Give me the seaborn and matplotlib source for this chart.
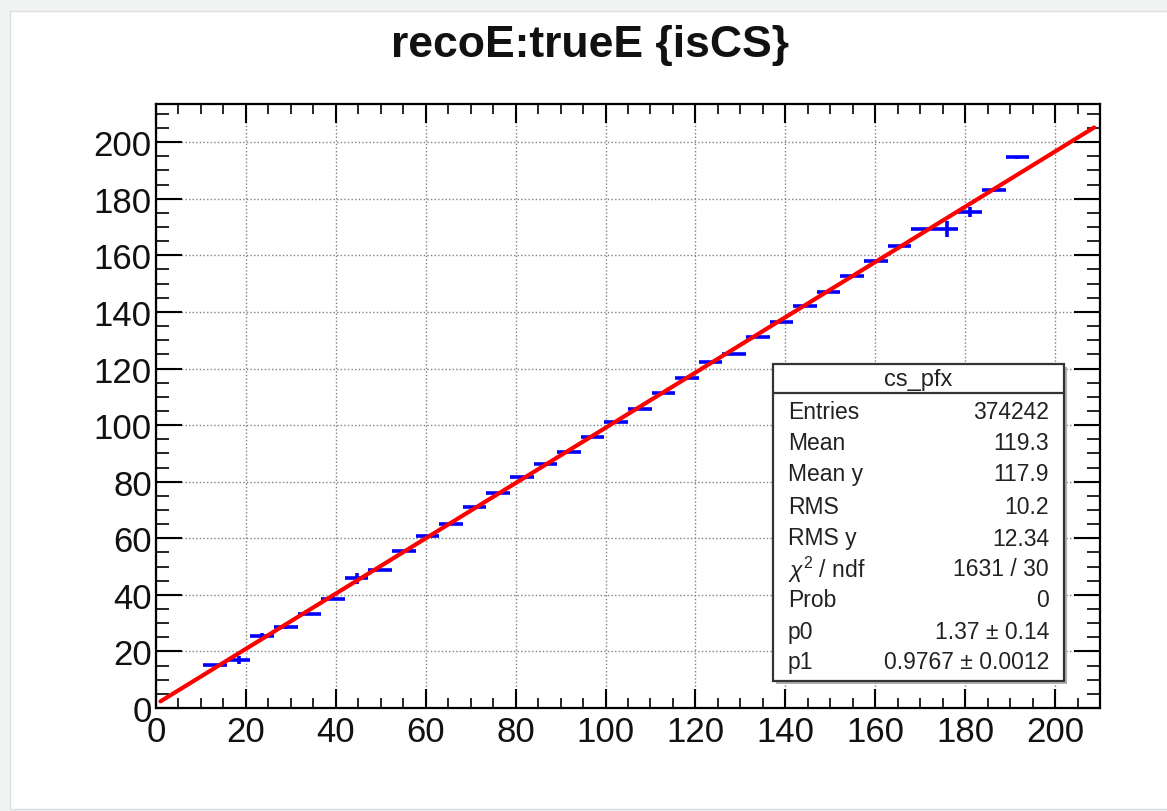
import numpy as np
import pandas as pd
import matplotlib
matplotlib.use("Agg")
import matplotlib.pyplot as plt
from matplotlib.patches import Rectangle
from matplotlib.ticker import MultipleLocator
import seaborn as sns

# ---------------- data ----------------
title = "recoE:trueE {isCS}"
x_centers = [13.125, 18.375, 23.625, 28.875, 34.125, 39.375, 44.625, 49.875,
             55.125, 60.375, 65.625, 70.875, 76.125, 81.375, 86.625, 91.875,
             97.125, 102.375, 107.625, 112.875, 118.125, 123.375, 128.625,
             133.875, 139.125, 144.375, 149.625, 154.875, 160.125, 165.375,
             170.625, 175.875, 181.125, 186.375, 191.625]
y_means = [15.3, 17.0, 25.6, 28.5, 33.3, 38.7, 45.8, 48.8,
           55.5, 60.8, 65.2, 71.1, 76.0, 81.5, 86.1, 90.6,
           95.8, 101.1, 105.7, 111.2, 116.6, 122.4, 125.3,
           131.3, 136.6, 142.1, 147.1, 152.7, 158.0, 163.3,
           169.3, 169.3, 175.3, 183.0, 194.7]
y_errors = [0.4, 1.5, 0.8, 0.5, 0.4, 0.4, 2.0, 0.4,
            0.5, 0.4, 0.3, 0.3, 0.3, 0.3, 0.3, 0.3,
            0.3, 0.3, 0.3, 0.3, 0.3, 0.3, 0.3,
            0.3, 0.3, 0.3, 0.3, 0.3, 0.3, 0.4,
            0.5, 2.7, 1.7, 0.6, 0.5]
bin_half_width = 2.625
fit_p0 = 1.37
fit_p1 = 0.9767
fit_range = [1.0, 208.7]

stats_title = "cs_pfx"
stats_labels = ["Entries", "Mean", "Mean y", "RMS", "RMS y",
                r"$\chi^2$ / ndf", "Prob", "p0", "p1"]
stats_values = ["374242", "119.3", "117.9", "10.2", "12.34",
                "1631 / 30", "0", "1.37 \u00b1 0.14", "0.9767 \u00b1 0.0012"]

x_lim = (0, 210)
y_lim = (0, 213.5)

# ---------------- style ----------------
sns.set_theme(style="ticks")
plt.rcParams["font.family"] = ["Liberation Sans", "DejaVu Sans"]
plt.rcParams["mathtext.fontset"] = "custom"
plt.rcParams["mathtext.rm"] = "Liberation Sans"
plt.rcParams["mathtext.it"] = "Liberation Sans:italic"

W, H = 1167, 812
fig = plt.figure(figsize=(W / 100, H / 100), dpi=100)
fig.patch.set_facecolor("#f1f3f3")

def fx(px):
    return px / W

def fy(py):
    return 1 - py / H

# white canvas
canvas = Rectangle((fx(10), fy(810)), fx(1167) - fx(10) + 0.01, fy(12) - fy(810),
                   transform=fig.transFigure, facecolor="white",
                   edgecolor="#dcdfe0", linewidth=1.0, zorder=0)
fig.add_artist(canvas)

ax = fig.add_axes([fx(156), fy(709), fx(1100) - fx(156), fy(105) - fy(709)])
ax.set_facecolor("white")

df_fit = pd.DataFrame({"x": np.linspace(fit_range[0], fit_range[1], 200)})
df_fit["y"] = fit_p0 + fit_p1 * df_fit["x"]

ax.errorbar(x_centers, y_means, xerr=bin_half_width, yerr=y_errors,
            fmt="none", ecolor="#0000ff", elinewidth=2.6, capsize=0, zorder=3)
sns.lineplot(data=df_fit, x="x", y="y", ax=ax, color="#ff0000",
             linewidth=3.0, zorder=4, legend=False)

ax.set_xlim(*x_lim)
ax.set_ylim(*y_lim)
ax.set_xlabel("")
ax.set_ylabel("")
ax.xaxis.set_major_locator(MultipleLocator(20))
ax.xaxis.set_minor_locator(MultipleLocator(5))
ax.yaxis.set_major_locator(MultipleLocator(20))
ax.yaxis.set_minor_locator(MultipleLocator(5))

ax.set_axisbelow(True)
ax.grid(True, which="major", linestyle=(0, (1.0, 1.6)), color="#808080",
        linewidth=1.0)

for sp in ax.spines.values():
    sp.set_linewidth(1.6)
    sp.set_color("black")
    sp.set_visible(True)

ax.tick_params(which="both", direction="in", top=True, right=True,
               colors="black", labelsize=25)
ax.tick_params(axis="x", which="major", length=14, width=1.5, pad=5)
ax.tick_params(axis="x", which="minor", length=7, width=1.2)
ax.tick_params(axis="y", which="major", length=19, width=1.5, pad=3)
ax.tick_params(axis="y", which="minor", length=9.5, width=1.2)
for lab in ax.get_xticklabels() + ax.get_yticklabels():
    lab.set_color("#111111")

# title
fig.text(fx(590), fy(46), title, ha="center", va="center",
         fontsize=32, fontweight="bold", color="#111111")

# stats box
bx0, bx1, by0, by1, bsep = 773, 1064, 365, 682, 394
shadow = Rectangle((fx(bx0 + 3), fy(by1 + 3)), fx(bx1) - fx(bx0), fy(by0) - fy(by1),
                   transform=fig.transFigure, facecolor="#b0b0b0",
                   edgecolor="none", zorder=9)
fig.add_artist(shadow)
box = Rectangle((fx(bx0), fy(by1)), fx(bx1) - fx(bx0), fy(by0) - fy(by1),
                transform=fig.transFigure, facecolor="white",
                edgecolor="#333333", linewidth=1.6, zorder=10)
fig.add_artist(box)
fig.add_artist(plt.Line2D([fx(bx0), fx(bx1)], [fy(bsep), fy(bsep)],
                          transform=fig.transFigure, color="#333333",
                          linewidth=1.6, zorder=11))
fig.text(fx((bx0 + bx1) / 2), fy(380), stats_title, ha="center", va="center",
         fontsize=17, color="#222222", zorder=12)
row_y = [413, 444, 475, 507, 539, 570, 601, 633, 663]
for lab, val, ry in zip(stats_labels, stats_values, row_y):
    fig.text(fx(788), fy(ry), lab, ha="left", va="center", fontsize=16.5,
             color="#222222", zorder=12)
    fig.text(fx(1049), fy(ry), val, ha="right", va="center", fontsize=16.5,
             color="#222222", zorder=12)

fig.savefig("out.png", dpi=100, facecolor=fig.get_facecolor())
